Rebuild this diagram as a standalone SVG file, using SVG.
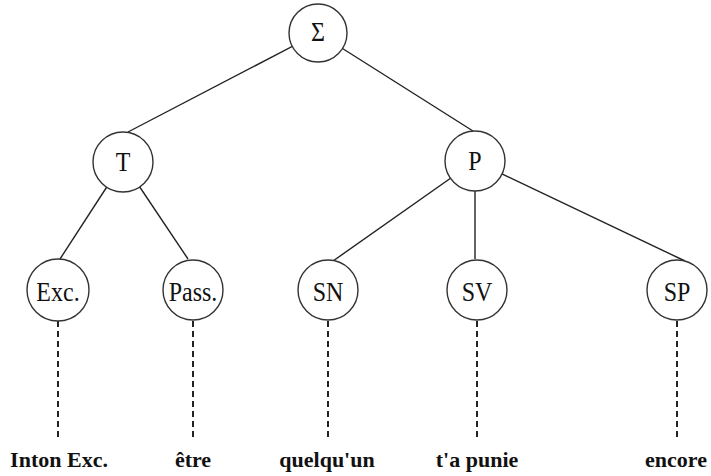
<svg xmlns="http://www.w3.org/2000/svg" width="711" height="476" viewBox="0 0 711 476">
  <style>
    .edge { stroke: #222; stroke-width: 1.4; fill: none; }
    .dash { stroke: #222; stroke-width: 2; stroke-dasharray: 6 4; fill: none; }
    .node circle { fill: #fff; stroke: #333; stroke-width: 1.4; }
    .lbl { font-family: 'Liberation Serif', 'Times New Roman', Times, serif; font-size: 24px; fill: #111; text-anchor: middle; }
    .word { font-family: 'Liberation Serif', 'Times New Roman', Times, serif; font-size: 22px; font-weight: bold; fill: #111; text-anchor: middle; }
  </style>
  <rect width="711" height="476" fill="#fff"/>

  <!-- tree edges -->
  <g id="connectors">
    <line class="edge" x1="318" y1="33" x2="128" y2="132"/>
    <line class="edge" x1="318" y1="33" x2="473" y2="131"/>
    <line class="edge" x1="123" y1="162" x2="60" y2="259"/>
    <line class="edge" x1="123" y1="162" x2="188" y2="259"/>
    <line class="edge" x1="475" y1="161" x2="333" y2="261"/>
    <line class="edge" x1="475" y1="161" x2="475" y2="259"/>
    <line class="edge" x1="475" y1="161" x2="685" y2="261"/>
    <!-- dashed links to the words -->
    <line class="dash" x1="58" y1="321" x2="58" y2="440"/>
    <line class="dash" x1="193" y1="321" x2="193" y2="440"/>
    <line class="dash" x1="328" y1="321" x2="328" y2="440"/>
    <line class="dash" x1="477" y1="321" x2="477" y2="440"/>
    <line class="dash" x1="677" y1="321" x2="677" y2="440"/>
  </g>

  <!-- node labels are set slightly tall: scale(1,1.15) -->
  <g id="sigma" class="node">
    <circle cx="318" cy="33" r="29"/>
    <text class="lbl" transform="translate(318,41) scale(1,1.15)">Σ</text>
  </g>
  <g id="T" class="node">
    <circle cx="123" cy="162" r="30"/>
    <text class="lbl" transform="translate(123,171) scale(1,1.15)">T</text>
  </g>
  <g id="P" class="node">
    <circle cx="475" cy="161" r="30"/>
    <text class="lbl" transform="translate(475,170) scale(1,1.15)">P</text>
  </g>
  <g id="Exc" class="node">
    <circle cx="58" cy="290" r="31"/>
    <text class="lbl" transform="translate(58,301) scale(1,1.15)">Exc.</text>
  </g>
  <g id="Pass" class="node">
    <circle cx="193" cy="290" r="30"/>
    <text class="lbl" transform="translate(193,301) scale(1,1.15)">Pass.</text>
  </g>
  <g id="SN" class="node">
    <circle cx="328" cy="290" r="30"/>
    <text class="lbl" transform="translate(328,301) scale(1,1.15)">SN</text>
  </g>
  <g id="SV" class="node">
    <circle cx="477" cy="290" r="30"/>
    <text class="lbl" transform="translate(477,301) scale(1,1.15)">SV</text>
  </g>
  <g id="SP" class="node">
    <circle cx="677" cy="290" r="30"/>
    <text class="lbl" transform="translate(677,301) scale(1,1.15)">SP</text>
  </g>

  <g id="words">
    <text class="word" x="59" y="467">Inton Exc.</text>
    <text class="word" x="193" y="467">être</text>
    <text class="word" x="327" y="467">quelqu'un</text>
    <text class="word" x="477" y="467">t'a punie</text>
    <text class="word" x="676" y="467">encore</text>
  </g>
</svg>
